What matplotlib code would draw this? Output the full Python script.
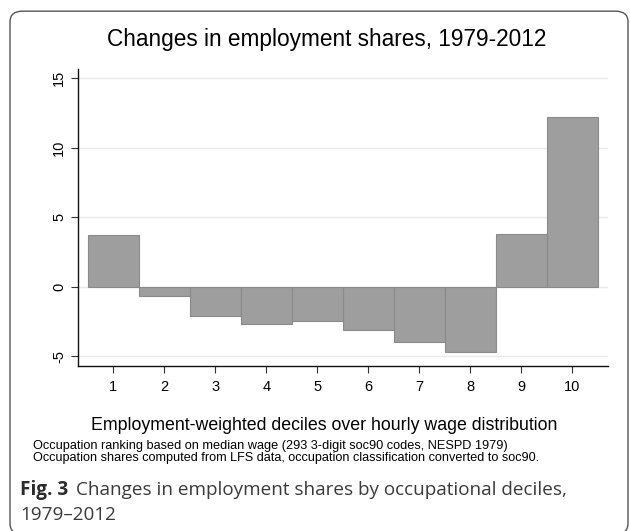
import matplotlib
matplotlib.use("Agg")
import matplotlib.pyplot as plt
from matplotlib.patches import FancyBboxPatch

# data
deciles = [1, 2, 3, 4, 5, 6, 7, 8, 9, 10]
changes = [3.7, -0.7, -2.1, -2.7, -2.5, -3.1, -3.95, -4.7, 3.8, 12.2]
yticks = [-5, 0, 5, 10, 15]

title = "Changes in employment shares, 1979-2012"
xlabel = "Employment-weighted deciles over hourly wage distribution"
notes = ["Occupation ranking based on median wage (293 3-digit soc90 codes, NESPD 1979)",
         "Occupation shares computed from LFS data, occupation classification converted to soc90."]
caption_bold = "Fig. 3"
caption = ["Changes in employment shares by occupational deciles,", "1979\u20132012"]

W, H = 630, 531
plt.rcParams['font.family'] = ['Liberation Sans', 'DejaVu Sans']

fig = plt.figure(figsize=(W / 100, H / 100), dpi=100)
renderer = fig.canvas.get_renderer()


def px(x, y):
    # pixel position (from top-left) to figure fraction
    return x / W, 1 - y / H


def fit(txt, x0, x1):
    # scale a text's font size so it spans x0..x1 pixels
    w = txt.get_window_extent(renderer).width
    txt.set_fontsize(txt.get_fontsize() * (x1 - x0) / w)


# rounded frame around the figure
frame = FancyBboxPatch((10 / W, -0.006), 618 / W, 0.985,
                       boxstyle="round,pad=0,rounding_size=0.02",
                       transform=fig.transFigure, fill=False,
                       edgecolor='#555555', linewidth=1.0, zorder=0)
fig.patches.append(frame)

ax = fig.add_axes([78 / W, 1 - 366 / H, (608 - 78) / W, (366 - 69) / H])
ax.bar(deciles, changes, width=1.0, color='#9d9e9d', edgecolor='#8a8a8a',
       linewidth=0.8, zorder=2)

ax.set_xlim(0.31, 10.7)
ax.set_ylim(-5.7, 15.65)
ax.set_xticks(deciles)
ax.set_yticks(yticks)
ax.set_yticklabels([str(t) for t in yticks], rotation=90, va='center')
ax.tick_params(axis='both', labelsize=10.5, length=5, width=0.8, color='#333333')
ax.tick_params(axis='y', pad=3.5)
ax.tick_params(axis='x', pad=5)
ax.grid(axis='y', color='#eaeaea', linewidth=1.0, zorder=0)
ax.set_axisbelow(True)
for side in ['top', 'right']:
    ax.spines[side].set_visible(False)
for side in ['left', 'bottom']:
    ax.spines[side].set_linewidth(1.0)
    ax.spines[side].set_color('#111111')

t = fig.text(*px(107, 46), title, ha='left', va='baseline', fontsize=15)
fit(t, 107, 547)
t = fig.text(*px(91, 425), xlabel, ha='left', va='center', fontsize=12)
fit(t, 91, 558)
t = fig.text(*px(33, 446), notes[0], ha='left', va='center', fontsize=8)
fit(t, 33, 511)
t = fig.text(*px(33, 458), notes[1], ha='left', va='center', fontsize=8)
fit(t, 33, 543)

# caption below the chart
cap_font = ['Open Sans', 'DejaVu Sans']
fs = 12
bold = fig.text(*px(20, 495), caption_bold, ha='left', va='baseline',
                fontsize=fs, fontweight='bold', family=cap_font, color='#2b2b2b')
reg = fig.text(0, 0, caption[0], ha='left', va='baseline',
               fontsize=fs, family=cap_font, color='#3a3a3a')
gap = 0.55 * fs
total = (bold.get_window_extent(renderer).width + gap
         + reg.get_window_extent(renderer).width)
fs = fs * (562 - 20) / total
bold.set_fontsize(fs)
reg.set_fontsize(fs)
bx1 = 20 + bold.get_window_extent(renderer).width + 0.55 * fs
reg.set_position(px(bx1, 495))
fig.text(*px(20, 520), caption[1], ha='left', va='baseline',
         fontsize=fs, family=cap_font, color='#3a3a3a')

fig.savefig("out.png", dpi=100)
